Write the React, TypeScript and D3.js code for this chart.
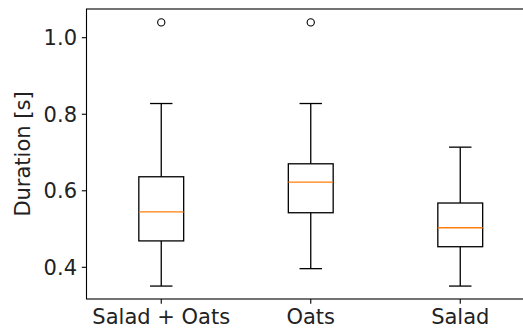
import React from "react";
import * as d3 from "d3";

// box statistics
const categories = ["Salad + Oats", "Oats", "Salad"];
const whiskerLow = [0.351, 0.3965, 0.351];
const q1 = [0.469, 0.5426, 0.4538];
const median = [0.545, 0.6227, 0.5034];
const q3 = [0.6366, 0.6705, 0.568];
const whiskerHigh = [0.828, 0.828, 0.714];
const outliers = [[1.04], [1.04], []];
const yTicks = [0.4, 0.6, 0.8, 1.0];

const W = 523, H = 329;
const margin = { left: 86.5, top: 9, right: 535, bottom: 299 };
const font = "'DejaVu Sans', sans-serif";

export default function App() {
  const x = d3.scaleLinear().domain([0.5, 3.5]).range([margin.left, margin.right]);
  const y = d3.scaleLinear().domain([0.3172, 1.075]).range([margin.bottom, margin.top]);
  const boxW = x(1.3) - x(1);
  const capW = boxW / 2;
  const stroke = "#000";
  const lw = 1.3;

  return (
    <svg width={W} height={H} style={{ position: "absolute", left: 0, top: 0, background: "#fff" }}>
      {/* boxes */}
      {categories.map((c, i) => {
        const cx = x(i + 1);
        return (
          <g key={c}>
            <line x1={cx} x2={cx} y1={y(whiskerLow[i])} y2={y(q1[i])} stroke={stroke} strokeWidth={lw} />
            <line x1={cx} x2={cx} y1={y(q3[i])} y2={y(whiskerHigh[i])} stroke={stroke} strokeWidth={lw} />
            <line x1={cx - capW / 2} x2={cx + capW / 2} y1={y(whiskerLow[i])} y2={y(whiskerLow[i])} stroke={stroke} strokeWidth={lw} />
            <line x1={cx - capW / 2} x2={cx + capW / 2} y1={y(whiskerHigh[i])} y2={y(whiskerHigh[i])} stroke={stroke} strokeWidth={lw} />
            <rect x={cx - boxW / 2} y={y(q3[i])} width={boxW} height={y(q1[i]) - y(q3[i])} fill="none" stroke={stroke} strokeWidth={lw} />
            <line x1={cx - boxW / 2} x2={cx + boxW / 2} y1={y(median[i])} y2={y(median[i])} stroke="#ff7f0e" strokeWidth={lw} />
            {outliers[i].map((o, j) => (
              <circle key={j} cx={cx} cy={y(o)} r={3.6} fill="none" stroke={stroke} strokeWidth={1.1} />
            ))}
          </g>
        );
      })}

      {/* spines */}
      <rect x={margin.left} y={margin.top} width={margin.right - margin.left} height={margin.bottom - margin.top}
        fill="none" stroke="#000" strokeWidth={1.1} />

      {/* y axis */}
      {yTicks.map(t => (
        <g key={t}>
          <line x1={margin.left - 4.7} x2={margin.left} y1={y(t)} y2={y(t)} stroke="#000" strokeWidth={1.1} />
          <text x={margin.left - 9.5} y={y(t)} dy="0.36em" textAnchor="end" fontFamily={font} fontSize={21} fill="#222">
            {t.toFixed(1)}
          </text>
        </g>
      ))}
      <text transform={`translate(30,${(margin.top + margin.bottom) / 2}) rotate(-90)`} textAnchor="middle"
        fontFamily={font} fontSize={21} fill="#222">Duration [s]</text>

      {/* x axis */}
      {categories.map((c, i) => (
        <g key={c}>
          <line x1={x(i + 1)} x2={x(i + 1)} y1={margin.bottom} y2={margin.bottom + 4.7} stroke="#000" strokeWidth={1.1} />
          <text x={x(i + 1)} y={margin.bottom + 9.5} dy="0.76em" textAnchor="middle" fontFamily={font} fontSize={21} fill="#222">
            {c}
          </text>
        </g>
      ))}
    </svg>
  );
}
